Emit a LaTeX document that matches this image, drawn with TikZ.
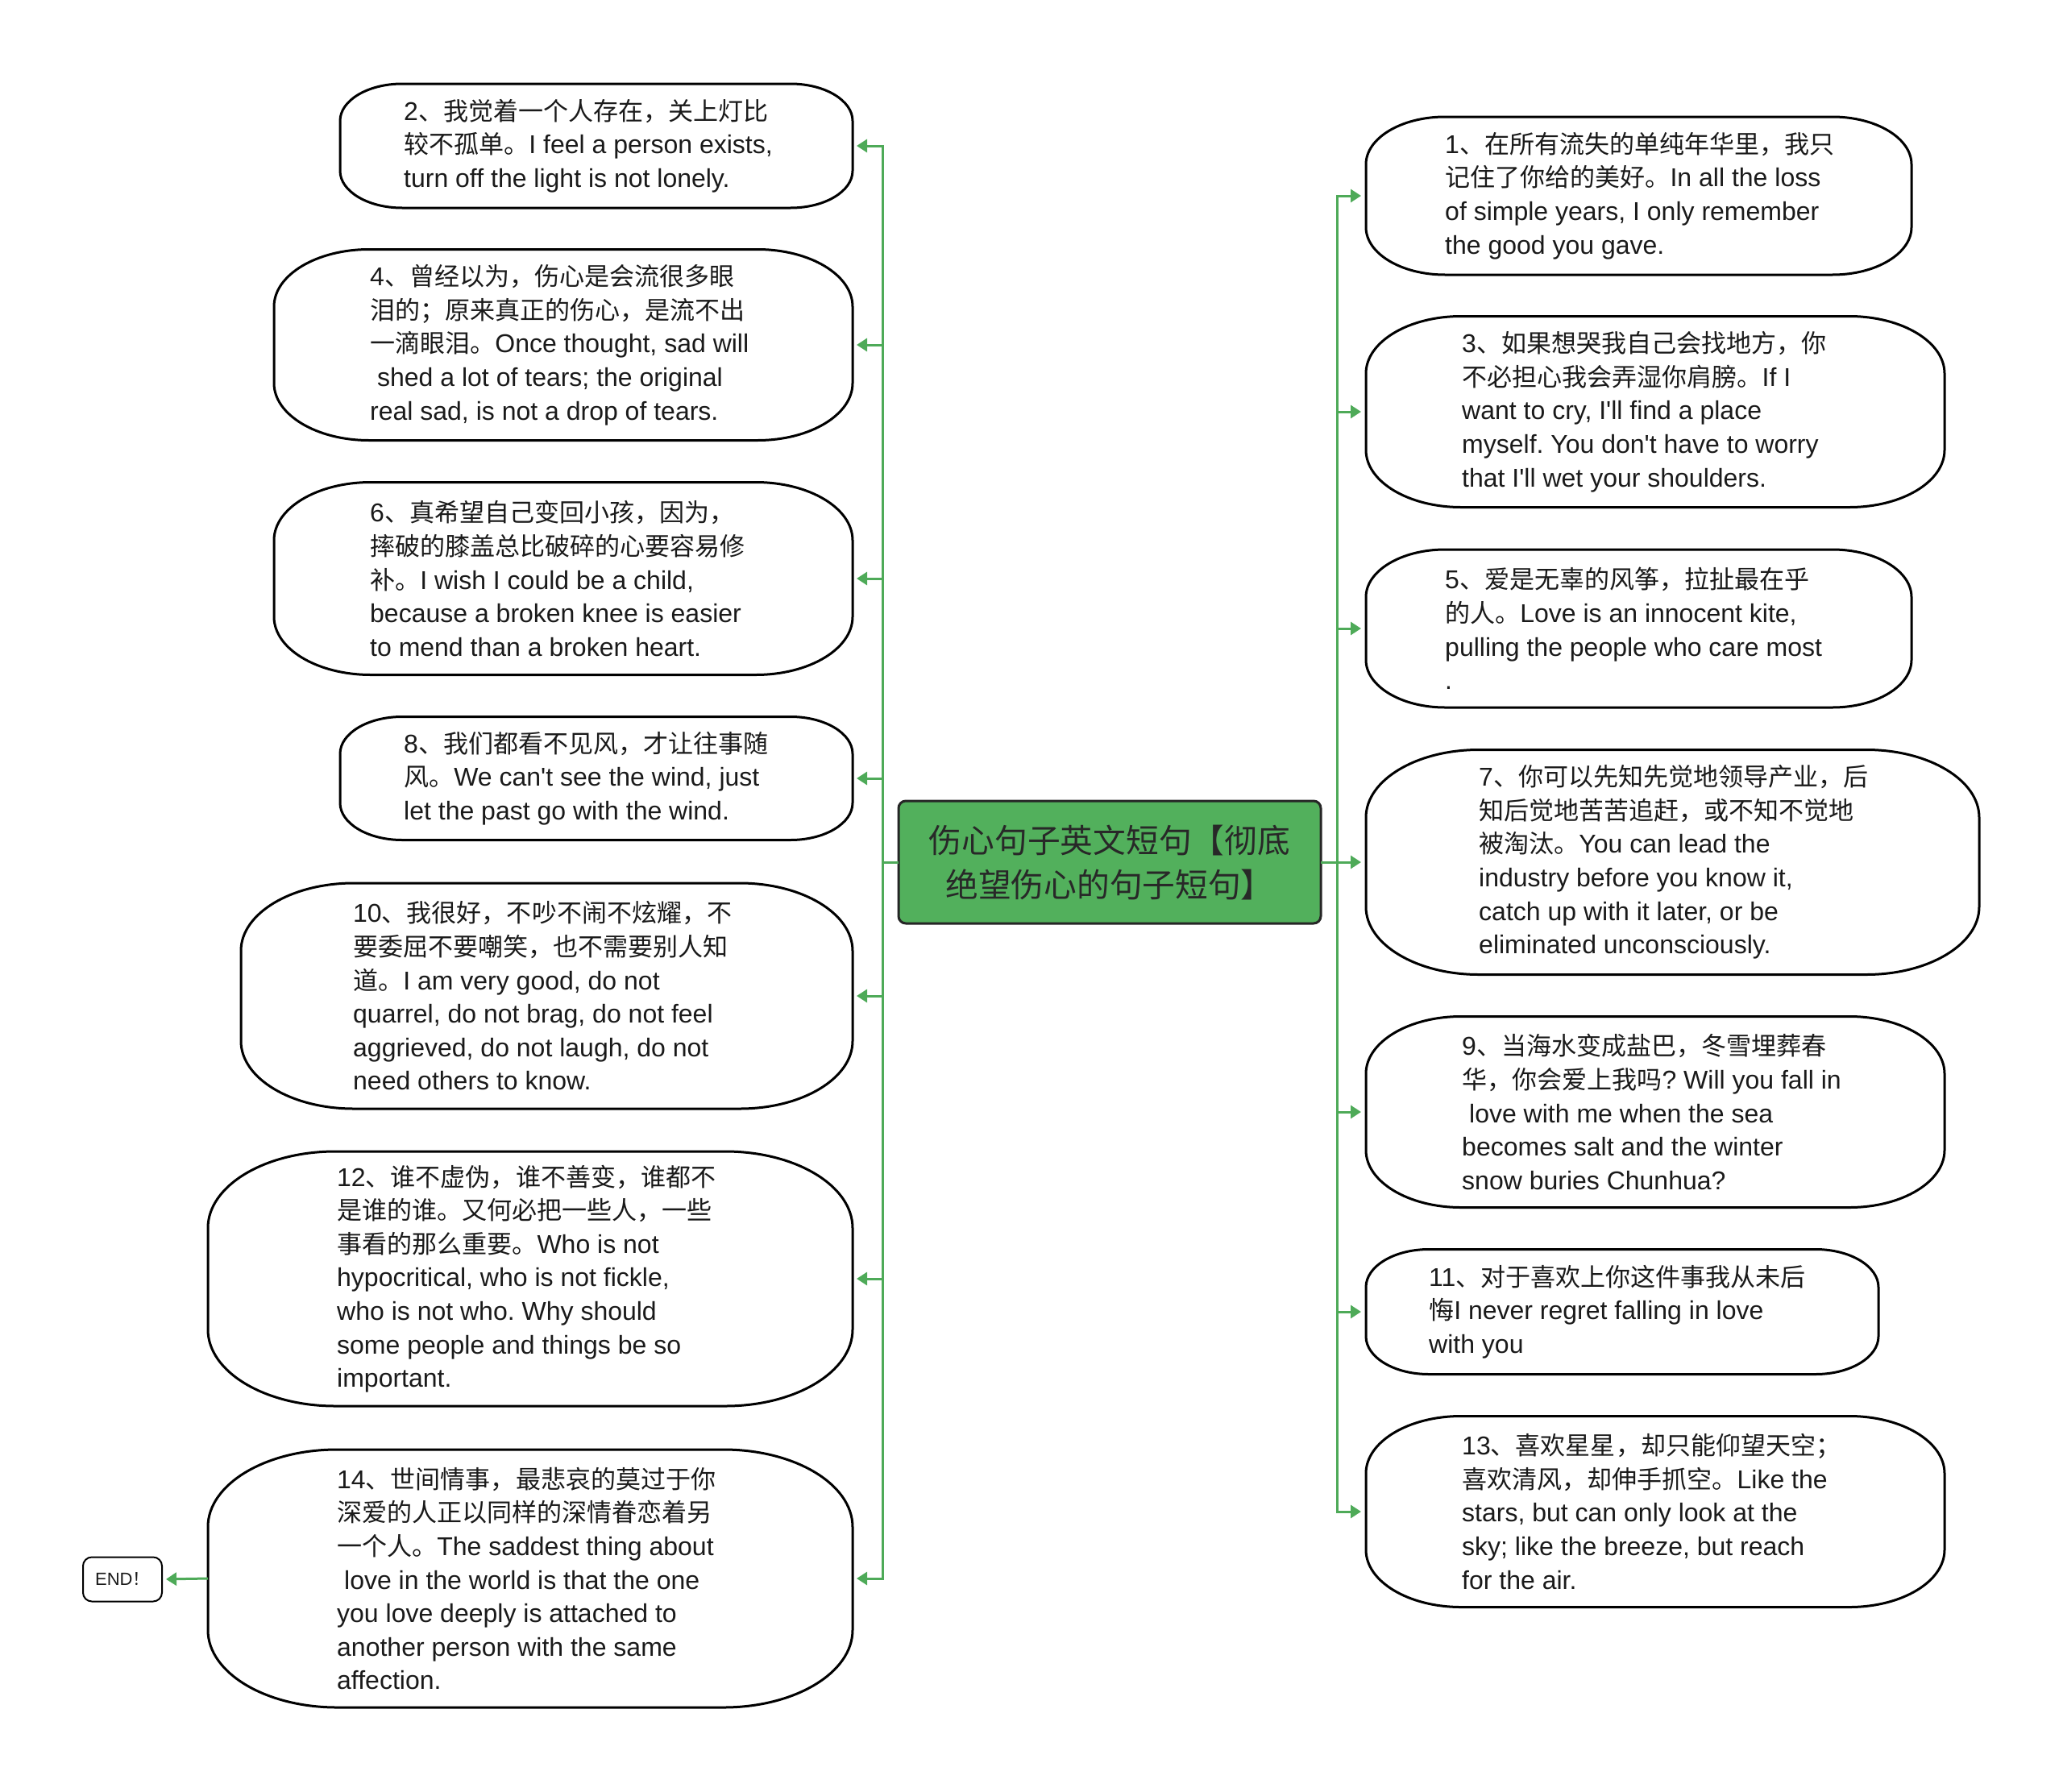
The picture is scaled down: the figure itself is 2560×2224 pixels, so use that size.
\documentclass[tikz,border=0pt]{standalone}
\usepackage{fontspec}
\setmainfont{Liberation Sans}[Ligatures=TeXOff]
\newfontfamily\cjk{Noto Sans CJK SC}[Scale=0.97]
\usetikzlibrary{arrows.meta}
\frenchspacing
\newcommand\zh[1]{{\cjk #1}}
\definecolor{conncol}{RGB}{78,170,88}
\definecolor{rootfill}{RGB}{82,176,92}
\definecolor{txtcol}{RGB}{26,26,26}
\definecolor{roottxt}{RGB}{40,40,40}
\tikzset{
  bubframe/.style={draw=none, inner sep=0pt, outer sep=0pt},
  bubline/.style={draw=black, line width=3pt},
  txt/.style={anchor=west, align=left, inner sep=0pt, text=txtcol, font=\frenchspacing\fontsize{32}{41.6}\selectfont},
  rootbox/.style={draw=black!85, line width=3pt, fill=rootfill, rounded corners=9pt, inner sep=0pt, outer sep=0pt,
    align=center, text=roottxt, font=\fontsize{42}{55}\selectfont},
  endbox/.style={draw=black, line width=2pt, rounded corners=11pt, inner sep=0pt, outer sep=0pt, text=txtcol,
    font=\fontsize{22}{26}\selectfont},
  conn/.style={draw=conncol, line width=3pt, -{Triangle[length=13pt,width=16pt]}}
}
\newcommand\bubbleout[3]{%
  \draw[bubline] ([xshift=#2pt]#1.north west) -- ([xshift=-#2pt]#1.north east)
    arc[start angle=90,end angle=0,x radius=#2pt,y radius=#3pt]
    -- ([yshift=#3pt]#1.south east)
    arc[start angle=0,end angle=-90,x radius=#2pt,y radius=#3pt]
    -- ([xshift=#2pt]#1.south west)
    arc[start angle=270,end angle=180,x radius=#2pt,y radius=#3pt]
    -- ([yshift=-#3pt]#1.north west)
    arc[start angle=180,end angle=90,x radius=#2pt,y radius=#3pt] -- cycle;}
\begin{document}
\begin{tikzpicture}[x=1pt,y=-1pt]
\fill[white] (0,0) rectangle (2560,2224);
\useasboundingbox (0,0) rectangle (2560,2224);

% root
\node[rootbox, minimum width=524pt, minimum height=152pt] (root) at (1377,1070)
  {\zh{伤心句子英文短句【彻底}\\\zh{绝望伤心的句子短句】}};

% left frames
\node[bubframe, minimum width=636pt, minimum height=154pt] (n2) at (740,181) {};
\node[bubframe, minimum width=718pt, minimum height=237pt] (n4) at (699,428) {};
\node[bubframe, minimum width=718pt, minimum height=239pt] (n6) at (699,718) {};
\node[bubframe, minimum width=636pt, minimum height=153pt] (n8) at (740,966) {};
\node[bubframe, minimum width=759pt, minimum height=280pt] (n10) at (678.5,1236) {};
\node[bubframe, minimum width=800pt, minimum height=316pt] (n12) at (658,1587) {};
\node[bubframe, minimum width=800pt, minimum height=320pt] (n14) at (658,1959) {};
% right frames
\node[bubframe, minimum width=677pt, minimum height=196pt] (n1) at (2033.5,243) {};
\node[bubframe, minimum width=718pt, minimum height=237pt] (n3) at (2054,511) {};
\node[bubframe, minimum width=677pt, minimum height=196pt] (n5) at (2033.5,780) {};
\node[bubframe, minimum width=761pt, minimum height=279pt] (n7) at (2075.5,1070) {};
\node[bubframe, minimum width=718pt, minimum height=237pt] (n9) at (2054,1380) {};
\node[bubframe, minimum width=636pt, minimum height=155pt] (n11) at (2013,1628) {};
\node[bubframe, minimum width=718pt, minimum height=237pt] (n13) at (2054,1876) {};

\bubbleout{n2}{77}{46}
\bubbleout{n4}{118}{71}
\bubbleout{n6}{120}{72}
\bubbleout{n8}{77}{46}
\bubbleout{n10}{140}{84}
\bubbleout{n12}{158}{95}
\bubbleout{n14}{160}{96}
\bubbleout{n1}{98}{59}
\bubbleout{n3}{118}{71}
\bubbleout{n5}{98}{59}
\bubbleout{n7}{140}{84}
\bubbleout{n9}{118}{71}
\bubbleout{n11}{78}{47}
\bubbleout{n13}{118}{71}

% texts left
\node[txt] (t2) at (501,181) {2\zh{、我觉着一个人存在，关上灯比}\\\zh{较不孤单。}I feel a person exists,\\turn off the light is not lonely.};
\node[txt] (t4) at (459,428) {4\zh{、曾经以为，伤心是会流很多眼}\\\zh{泪的；原来真正的伤心，是流不出}\\\zh{一滴眼泪。}Once thought, sad will\\\hspace*{0.28em}shed a lot of tears; the original\\real sad, is not a drop of tears.};
\node[txt] (t6) at (459,718) {6\zh{、真希望自己变回小孩，因为，}\\\zh{摔破的膝盖总比破碎的心要容易修}\\\zh{补。}I wish I could be a child,\\because a broken knee is easier\\to mend than a broken heart.};
\node[txt] (t8) at (501,966) {8\zh{、我们都看不见风，才让往事随}\\\zh{风。}We can't see the wind, just\\let the past go with the wind.};
\node[txt] (t10) at (438,1236) {10\zh{、我很好，不吵不闹不炫耀，不}\\\zh{要委屈不要嘲笑，也不需要别人知}\\\zh{道。}I am very good, do not\\quarrel, do not brag, do not feel\\aggrieved, do not laugh, do not\\need others to know.};
\node[txt] (t12) at (418,1587) {12\zh{、谁不虚伪，谁不善变，谁都不}\\\zh{是谁的谁。又何必把一些人，一些}\\\zh{事看的那么重要。}Who is not\\hypocritical, who is not fickle,\\who is not who. Why should\\some people and things be so\\important.};
\node[txt] (t14) at (418,1959) {14\zh{、世间情事，最悲哀的莫过于你}\\\zh{深爱的人正以同样的深情眷恋着另}\\\zh{一个人。}The saddest thing about\\\hspace*{0.28em}love in the world is that the one\\you love deeply is attached to\\another person with the same\\affection.};
% texts right
\node[txt] (t1) at (1793,243) {1\zh{、在所有流失的单纯年华里，我只}\\\zh{记住了你给的美好。}In all the loss\\of simple years, I only remember\\the good you gave.};
\node[txt] (t3) at (1814,511) {3\zh{、如果想哭我自己会找地方，你}\\\zh{不必担心我会弄湿你肩膀。}If I\\want to cry, I'll find a place\\myself. You don't have to worry\\that I'll wet your shoulders.};
\node[txt] (t5) at (1793,780) {5\zh{、爱是无辜的风筝，拉扯最在乎}\\\zh{的人。}Love is an innocent kite,\\pulling the people who care most\\.};
\node[txt] (t7) at (1835,1070) {7\zh{、你可以先知先觉地领导产业，后}\\\zh{知后觉地苦苦追赶，或不知不觉地}\\\zh{被淘汰。}You can lead the\\industry before you know it,\\catch up with it later, or be\\eliminated unconsciously.};
\node[txt] (t9) at (1814,1380) {9\zh{、当海水变成盐巴，冬雪埋葬春}\\\zh{华，你会爱上我吗}? Will you fall in\\\hspace*{0.28em}love with me when the sea\\becomes salt and the winter\\snow buries Chunhua?};
\node[txt] (t11) at (1773,1628) {11\zh{、对于喜欢上你这件事我从未后}\\\zh{悔}I never regret falling in love\\with you};
\node[txt] (t13) at (1814,1876) {13\zh{、喜欢星星，却只能仰望天空；}\\\zh{喜欢清风，却伸手抓空。}Like the\\stars, but can only look at the\\sky; like the breeze, but reach\\for the air.};

% END
\node[endbox, minimum width=98pt, minimum height=55pt] (endn) at (152,1960) {END\zh{！}};

% connectors left
\foreach \n in {n2,n4,n6,n8,n10,n12,n14}{
  \draw[conn, shorten >=5pt] (root.west) -- ++(-20,0) |- (\n.east);
}
% connectors right
\foreach \n in {n1,n3,n5,n7,n9,n11,n13}{
  \draw[conn, shorten >=6pt] (root.east) -- ++(20,0) |- (\n.west);
}
\draw[conn, shorten >=5pt] (n14.west) -- (endn.east);
\end{tikzpicture}
\end{document}
